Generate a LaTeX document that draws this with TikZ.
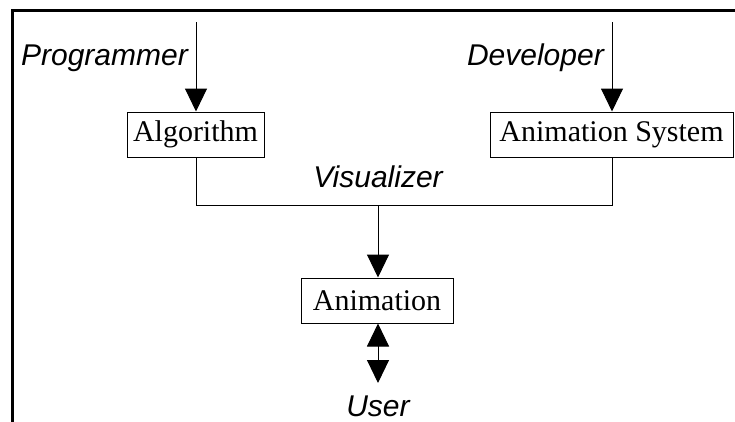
\documentclass[tikz,border=0pt]{standalone}
\usepackage{fontspec}
\setmainfont{Liberation Serif}
\newfontfamily\lsans{Liberation Sans}
\usetikzlibrary{arrows.meta}
\tikzset{
  boxnode/.style={draw=black, line width=1pt, inner sep=0pt, font=\fontsize{30}{36}\selectfont},
  lbl/.style={inner sep=0pt, font=\lsans\itshape\fontsize{30}{36}\selectfont},
  conn/.style={line width=1pt, draw=black},
  tri/.style={-{Triangle[length=23pt,width=22pt]}},
  dtri/.style={{Triangle[length=23pt,width=22pt]}-{Triangle[length=23pt,width=22pt]}},
}
\begin{document}
\begin{tikzpicture}[x=1pt,y=-1pt]
\useasboundingbox (0,0) rectangle (735,421);
\draw[line width=3pt] (12.5,425) -- (12.5,10.5) -- (740,10.5);
% boxes
\node[boxnode, minimum width=137pt, minimum height=45pt] (alg) at (195.5,134.5) {Algorithm};
\node[boxnode, minimum width=243pt, minimum height=45pt] (anisys) at (611.5,134.5) {Animation System};
\node[boxnode, minimum width=152pt, minimum height=45pt] (anim) at (377,300.5) {Animation};
% labels
\node[lbl, anchor=base east] (prog) at (188,65.5) {Programmer};
\node[lbl, anchor=base east] (dev) at (604,65.5) {Developer};
\node[lbl, anchor=base] (vis) at (378,187.5) {Visualizer};
\node[lbl, anchor=base] (user) at (378,416) {User};
% coordinates
\coordinate (p0) at (196,22);
\coordinate (d0) at (612,22);
\coordinate (jl) at (196,205);
\coordinate (jr) at (612,205);
\coordinate (jm) at (378,205);
\coordinate (u0) at (378,383);
% connectors
\draw[conn, tri] (p0) -- (p0 |- alg.north);
\draw[conn, tri] (d0) -- (d0 |- anisys.north);
\draw[conn] (jl |- alg.south) -- (jl) -- (jr) -- (jr |- anisys.south);
\draw[conn, tri] (jm) -- (jm |- anim.north);
\draw[conn, dtri] (jm |- anim.south) -- (u0);
\end{tikzpicture}
\end{document}
